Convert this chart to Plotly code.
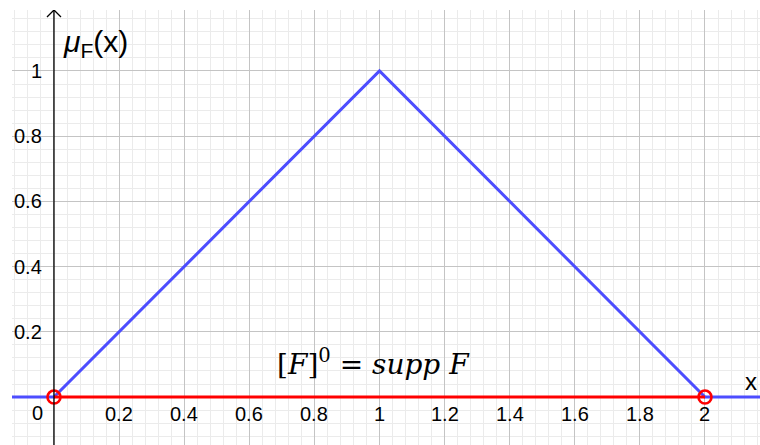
import plotly.graph_objects as go

# Triangular membership function F with support [0, 2] and peak at x = 1
x_left, x_right = -0.129, 2.169
mu_x = [x_left, 0, 1, 2, x_right]
mu_y = [0, 0, 1, 0, 0]

# Zero-cut (support) of F
supp_x = [0, 2]
supp_y = [0, 0]

# Axis tick labels
x_ticks = [0.2, 0.4, 0.6, 0.8, 1, 1.2, 1.4, 1.6, 1.8, 2]
x_tick_text = ["0.2", "0.4", "0.6", "0.8", "1", "1.2", "1.4", "1.6", "1.8", "2"]
y_ticks = [0.2, 0.4, 0.6, 0.8, 1]
y_tick_text = ["0.2", "0.4", "0.6", "0.8", "1"]

y_bottom, y_top = -0.147, 1.187

BLUE = "#4d4dff"
RED = "#ff0000"
SANS = "Liberation Sans, Arial, sans-serif"
LABEL_FONT = dict(family=SANS, size=20, color="#000000")

fig = go.Figure()

# vertical axis line
fig.add_shape(type="line", x0=0, x1=0, y0=y_bottom, y1=y_top,
              line=dict(color="black", width=1.3), layer="above")
# arrow head at top of the vertical axis
u = 0.0215
fig.add_shape(type="path",
              path=f"M {-u} {y_top - u} L 0 {y_top} L {u} {y_top - u}",
              line=dict(color="black", width=1.3), layer="above")

fig.add_trace(go.Scatter(x=mu_x, y=mu_y, mode="lines",
                         line=dict(color=BLUE, width=3), hoverinfo="skip"))
fig.add_trace(go.Scatter(x=supp_x, y=supp_y, mode="lines+markers",
                         line=dict(color=RED, width=3),
                         marker=dict(symbol="circle-open", size=13, color=RED,
                                     line=dict(width=2.6, color=RED)),
                         hoverinfo="skip"))

annotations = []
for xv, t in zip(x_ticks, x_tick_text):
    annotations.append(dict(x=xv, y=0, text=t, showarrow=False, font=LABEL_FONT,
                            xanchor="center", yanchor="middle", yshift=-17))
for yv, t in zip(y_ticks, y_tick_text):
    annotations.append(dict(x=0, y=yv, text=t, showarrow=False, font=LABEL_FONT,
                            xanchor="right", yanchor="middle", xshift=-10))
annotations.append(dict(x=0, y=0, text="0", showarrow=False, font=LABEL_FONT,
                        xanchor="center", yanchor="middle", xshift=-16, yshift=-16))

# axis names
annotations.append(dict(x=0, y=y_top, text="<i>μ</i><sub>F</sub>(x)", showarrow=False,
                        font=dict(family=SANS, size=30, color="black"),
                        xanchor="left", yanchor="top", xshift=7, yshift=-13))
annotations.append(dict(x=x_right, y=0, text="x", showarrow=False,
                        font=dict(family=SANS, size=24, color="black"),
                        xanchor="right", yanchor="bottom", xshift=-1, yshift=0))

# label of the support segment
annotations.append(dict(x=1, y=0.107, text="[<i>F</i>]<sup>0</sup> = <i>supp F</i>",
                        showarrow=False,
                        font=dict(family="DejaVu Serif, Liberation Serif, serif", size=28, color="black"),
                        xanchor="center", yanchor="middle", xshift=-6))

fig.update_layout(
    width=760, height=445,
    margin=dict(l=12, r=0, t=10, b=0),
    paper_bgcolor="white", plot_bgcolor="white",
    showlegend=False,
    annotations=annotations,
    xaxis=dict(range=[x_left, x_right], tick0=0, dtick=0.2, showgrid=True,
               gridcolor="#c4c4c4", gridwidth=1, zeroline=False, showticklabels=False,
               ticks="", showline=False, fixedrange=True,
               minor=dict(tick0=0, dtick=0.04, showgrid=True, gridcolor="#ebebeb", gridwidth=1)),
    yaxis=dict(range=[y_bottom, y_top], tick0=0, dtick=0.2, showgrid=True,
               gridcolor="#c4c4c4", gridwidth=1, zeroline=False, showticklabels=False,
               ticks="", showline=False, fixedrange=True,
               minor=dict(tick0=0, dtick=0.04, showgrid=True, gridcolor="#ebebeb", gridwidth=1)),
)

fig.write_html("out.html", config={"displayModeBar": False})
